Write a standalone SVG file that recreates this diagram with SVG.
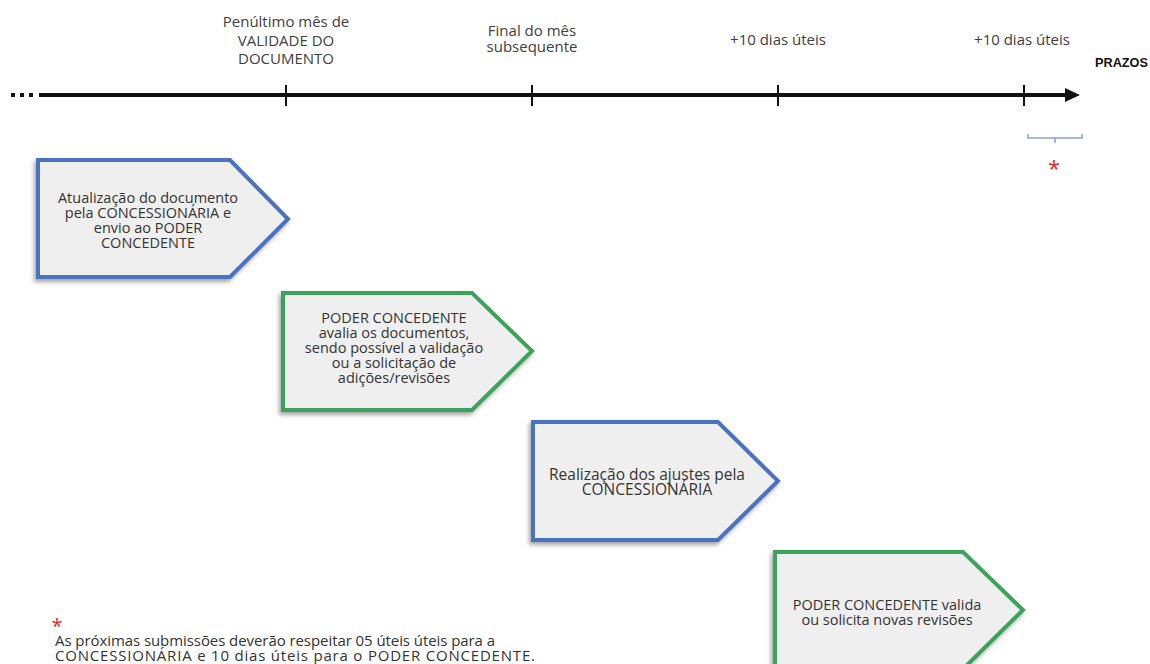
<svg xmlns="http://www.w3.org/2000/svg" width="1150" height="664" viewBox="0 0 1150 664">
<defs>
<style>
.lbl{font-family:"Open Sans","Liberation Sans",sans-serif;font-size:15px;fill:#404040;text-anchor:middle}
.bt{font-family:"Open Sans","Liberation Sans",sans-serif;font-size:14.5px;fill:#333;text-anchor:middle}
.ft{font-family:"Open Sans","Liberation Sans",sans-serif;font-size:15px;fill:#333}
.star{font-family:"Open Sans","Liberation Sans",sans-serif;font-size:22px;fill:#e02a2a;text-anchor:middle}
.blue{fill:#efefef;stroke:#4a72c0;stroke-width:4;stroke-linejoin:miter}
.green{fill:#efefef;stroke:#3ca35c;stroke-width:4;stroke-linejoin:miter}
.tick{stroke:#111;stroke-width:2}
</style>
<filter id="sh" x="-10%" y="-10%" width="120%" height="125%">
<feDropShadow dx="-2" dy="3" stdDeviation="2" flood-color="#000" flood-opacity="0.35"/>
</filter>
</defs>
<rect width="1150" height="664" fill="#fff"/>

<g id="timeline">
<rect x="11" y="93" width="4" height="4" fill="#111"/>
<rect x="20" y="93" width="4" height="4" fill="#111"/>
<rect x="29" y="93" width="4" height="4" fill="#111"/>
<line x1="39" y1="95" x2="1066" y2="95" stroke="#111" stroke-width="4"/>
<polygon points="1065,88 1080,95 1065,102" fill="#111"/>
<line class="tick" x1="286" y1="85" x2="286" y2="106"/>
<line class="tick" x1="532" y1="85" x2="532" y2="106"/>
<line class="tick" x1="778" y1="85" x2="778" y2="106"/>
<line class="tick" x1="1024" y1="85" x2="1024" y2="106"/>
<text class="lbl" x="286" y="27">Penúltimo mês de<tspan x="286" dy="19">VALIDADE DO</tspan><tspan x="286" dy="18">DOCUMENTO</tspan></text>
<text class="lbl" x="532" y="36">Final do mês<tspan x="532" dy="16">subsequente</tspan></text>
<text class="lbl" x="778" y="45">+10 dias úteis</text>
<text class="lbl" x="1022" y="45">+10 dias úteis</text>
<text x="1095" y="67" font-family="'Liberation Sans',Arial,sans-serif" font-weight="bold" font-size="13" fill="#111" textLength="53" lengthAdjust="spacingAndGlyphs">PRAZOS</text>
<path d="M1028,134 V138 H1082 V134 M1055,138 V143" fill="none" stroke="#8aa2c8" stroke-width="1.5"/>
<text class="star" x="1054" y="176">*</text>
</g>

<g id="node1">
<path class="blue" filter="url(#sh)" d="M38,160 H230 L288,219 L230,277 H38 Z"/>
<text class="bt" x="148" y="203">Atualização do documento<tspan x="148" dy="15">pela CONCESSIONÁRIA e</tspan><tspan x="148" dy="15">envio ao PODER</tspan><tspan x="148" dy="15">CONCEDENTE</tspan></text>
</g>

<g id="node2">
<path class="green" filter="url(#sh)" d="M283,293 H472 L532,351 L472,410 H283 Z"/>
<text class="bt" x="394" y="323">PODER CONCEDENTE<tspan x="394" dy="15">avalia os documentos,</tspan><tspan x="394" dy="15">sendo possível a validação</tspan><tspan x="394" dy="15">ou a solicitação de</tspan><tspan x="394" dy="15">adições/revisões</tspan></text>
</g>

<g id="node3">
<path class="blue" filter="url(#sh)" d="M533,422 H718 L778,481 L718,540 H533 Z"/>
<text class="bt" x="647" y="480" style="font-size:15.5px">Realização dos ajustes pela<tspan x="647" dy="15">CONCESSIONÁRIA</tspan></text>
</g>

<g id="node4">
<path class="green" filter="url(#sh)" d="M775,552 H963 L1023,610 L963,669 H775 Z"/>
<text class="bt" x="887" y="610">PODER CONCEDENTE valida<tspan x="887" dy="15">ou solicita novas revisões</tspan></text>
</g>

<g id="connectors"></g>

<g id="footnote">
<text class="star" x="57" y="633" style="font-size:20px">*</text>
<text class="ft" x="55" y="646" textLength="440" lengthAdjust="spacing">As próximas submissões deverão respeitar 05 úteis úteis para a</text>
<text class="ft" x="55" y="661" textLength="480" lengthAdjust="spacing">CONCESSIONÁRIA e 10 dias úteis para o PODER CONCEDENTE.</text>
</g>
</svg>
